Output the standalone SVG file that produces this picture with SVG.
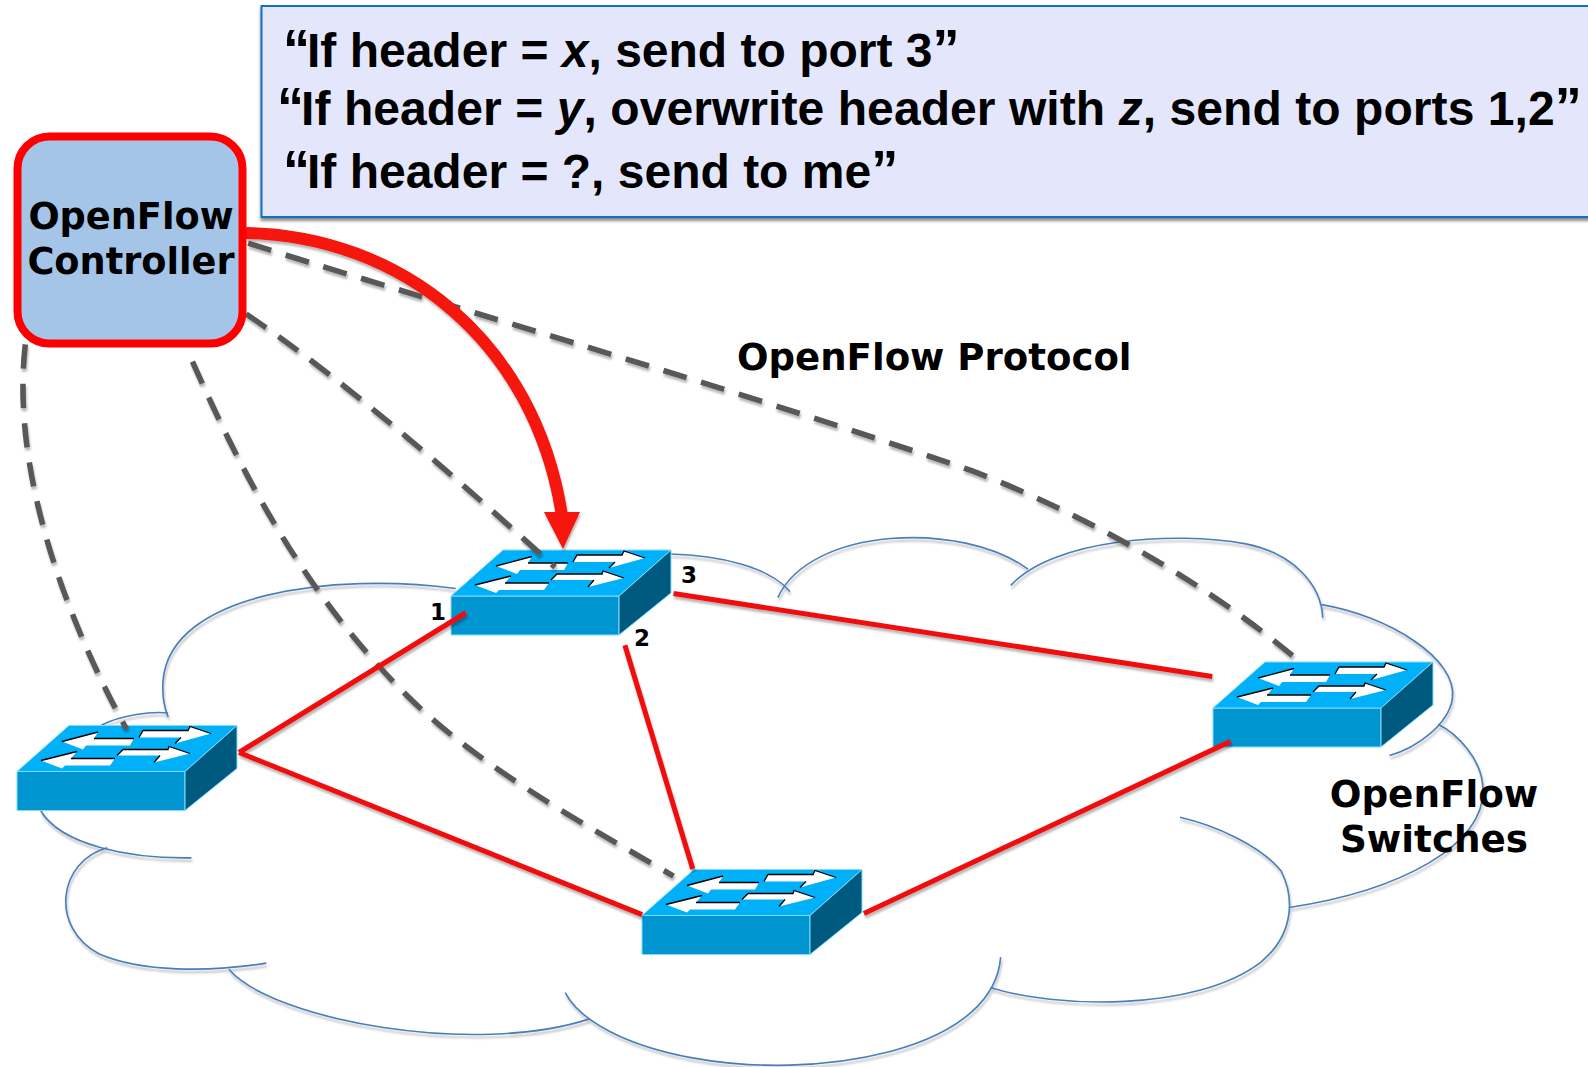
<svg xmlns="http://www.w3.org/2000/svg" width="1588" height="1067" viewBox="0 0 1588 1067">
<style>
.cloud{fill:none;stroke:#4a7ebb;stroke-width:1.6}
.dash{fill:none;stroke:#595959;stroke-width:5.5;stroke-dasharray:24 15}
.red{fill:none;stroke:#f01010;stroke-width:5}
.lab{font-family:"DejaVu Sans",sans-serif;font-weight:700;fill:#000}
.rule{font-family:"Liberation Sans",Arial,sans-serif;font-weight:700;font-size:48px;fill:#000}
.rule .i{font-style:italic}
.rule .q{font-size:54px}
</style>
<defs>
<filter id="sh" x="-10%" y="-10%" width="120%" height="120%"><feDropShadow dx="1" dy="3" stdDeviation="1.2" flood-color="#000" flood-opacity=".28"/></filter>
<filter id="sb" x="-5%" y="-5%" width="110%" height="115%"><feDropShadow dx="0" dy="3" stdDeviation="1.5" flood-color="#000" flood-opacity=".45"/></filter>
<g id="sw">
<polygon points="0,0 168,0 168,39 0,39" fill="#0095d0" stroke="#7fdcff" stroke-width="1"/>
<polygon points="0,0 52,-46 220,-46 168,0" fill="#00b0f8" stroke="#7fdcff" stroke-width="1"/>
<polygon points="168,0 220,-46 220,-3 168,39" fill="#005a80" stroke="#7fdcff" stroke-width="1"/>
<g fill="#fff" stroke="none">
<polygon points="45,-30 81,-39.5 77,-33 117,-33 113,-26 69,-26 66,-22"/>
<polygon points="24,-11 60,-20 54,-13 98,-13 93,-6 48,-6 45,-3"/>
<polygon points="126,-41 171,-41 173,-45 194,-38 158,-28 164,-34 122,-34"/>
<polygon points="106,-22 151,-22 152,-25 173,-18 137,-9 143,-16 100,-16"/>
</g>
<g fill="none" stroke="#000" stroke-width="1.3">
<polyline points="45,-30 81,-39.5"/><polyline points="77,-33 117,-33"/>
<polyline points="24,-11 60,-20"/><polyline points="54,-13 98,-13"/>
<polyline points="122,-34 126,-41 171,-41 173,-45 194,-38"/><polyline points="158,-28 164,-34"/>
<polyline points="100,-16 106,-22 151,-22 152,-25 173,-18"/><polyline points="137,-9 143,-16"/>
</g>
</g>
</defs>
<rect width="1588" height="1067" fill="#fff"/>
<g id="network-cloud" transform="scale(1.0128)" filter="url(#sh)">
<path class="cloud" d="M450,581C330,565 168,585 161,672C160,685 162,698 166,708"/>
<path class="cloud" d="M166,704C150,702 120,706 100,716"/>
<path class="cloud" d="M40,800C60,835 130,848 189,847"/>
<path class="cloud" d="M106,837C58,850 48,915 98,942C140,960 205,960 263,951"/>
<path class="cloud" d="M226,957C270,1008 470,1043 582,1006"/>
<path class="cloud" d="M558,980C590,1040 750,1072 880,1038C950,1019 985,985 988,945"/>
<path class="cloud" d="M978,975C1040,995 1180,1000 1245,950C1275,925 1280,890 1265,860C1245,835 1200,815 1165,807"/>
<path class="cloud" d="M1273,896C1380,880 1470,835 1464,775C1462,750 1440,725 1420,715"/>
<path class="cloud" d="M1305,597C1370,608 1440,650 1434,690C1430,715 1400,738 1372,746"/>
<path class="cloud" d="M998,578C1040,532 1160,524 1230,537C1280,547 1305,580 1306,610"/>
<path class="cloud" d="M768,590C800,520 950,514 1015,562"/>
<path class="cloud" d="M662,547C710,548 760,560 780,584"/>
</g>
<use id="switch-left" href="#sw" x="17" y="771.5"/>
<use id="switch-top" href="#sw" x="451" y="596"/>
<use id="switch-right" href="#sw" x="1213" y="708"/>
<use id="switch-bottom" href="#sw" x="642" y="915.5"/>
<g id="connectors" filter="url(#sh)">
<g transform="scale(1.0128)">
<path class="dash" d="M245,240C400,290 700,375 960,465C1090,515 1210,590 1285,655" stroke-dasharray="24 14.6"/>
<path class="dash" d="M243,310C340,375 460,480 548,560"/>
<path class="dash" d="M190,357C240,470 300,585 400,685C470,755 570,810 665,865"/>
<path class="dash" d="M25,340C10,470 70,620 125,720"/>
<line class="red" x1="236" y1="743" x2="460" y2="605"/>
<line class="red" x1="236" y1="743" x2="634" y2="903"/>
<line class="red" x1="617" y1="637" x2="684" y2="858"/>
<line class="red" x1="665" y1="586" x2="1197" y2="668"/>
<line class="red" x1="853" y1="902" x2="1215" y2="732"/>
</g>
<path id="red-arrow" d="M246,233C400,236 535,340 562,516" fill="none" stroke="#f5120a" stroke-width="12"/>
<polygon points="563,549 544,512 580,512" fill="#f5120a"/>
</g>
<g id="controller">
<rect x="17.5" y="136.5" width="225" height="207" rx="32" fill="#a4c5e8" stroke="#ff0000" stroke-width="8"/>
<text class="lab" font-size="36.7" text-anchor="middle" x="131" y="229">OpenFlow</text>
<text class="lab" font-size="36.7" text-anchor="middle" x="131" y="274">Controller</text>
</g>
<g id="rules">
<rect x="261.5" y="6" width="1340" height="211" fill="#e4e7fb" stroke="#0f70c0" stroke-width="2" filter="url(#sb)"/>
<text class="rule" x="283" y="67"><tspan class="q">“</tspan><tspan dx="-3">If header = </tspan><tspan class="i">x</tspan>, send to port 3<tspan class="q">”</tspan></text>
<text class="rule" x="277" y="125" letter-spacing=".07"><tspan class="q">“</tspan><tspan dx="-3">If header = </tspan><tspan class="i">y</tspan>, overwrite header with <tspan class="i">z</tspan>, send to ports 1,2<tspan class="q">”</tspan></text>
<text class="rule" x="283" y="188"><tspan class="q">“</tspan><tspan dx="-3">If header = ?, send to me</tspan><tspan class="q">”</tspan></text>
</g>
<g id="labels">
<text class="lab" font-size="37.1" x="737" y="370">OpenFlow Protocol</text>
<text class="lab" font-size="37.3" text-anchor="middle" x="1434" y="807">OpenFlow</text>
<text class="lab" font-size="37.3" text-anchor="middle" x="1434" y="852">Switches</text>
<text class="lab" font-size="23" x="430" y="620">1</text>
<text class="lab" font-size="23" x="634" y="646">2</text>
<text class="lab" font-size="23" x="681" y="583">3</text>
</g>
</svg>
